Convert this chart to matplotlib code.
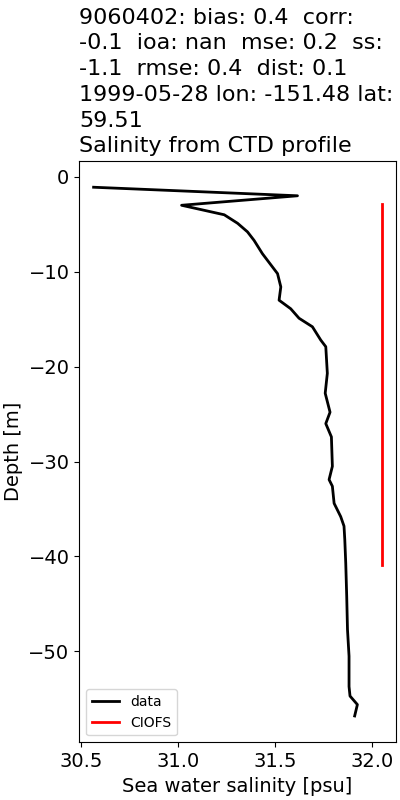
import numpy as np
import matplotlib.pyplot as plt

# CTD profile (observed)
salt = [30.565, 31.617, 31.019, 31.239, 31.308, 31.359, 31.393, 31.436, 31.488,
        31.514, 31.531, 31.522, 31.582, 31.625, 31.694, 31.737, 31.763, 31.771,
        31.760, 31.785, 31.763, 31.792, 31.797, 31.780, 31.797, 31.806, 31.840,
        31.857, 31.861, 31.866, 31.871, 31.875, 31.883, 31.883, 31.888, 31.926,
        31.912]
depth = [-1.1, -2.0, -3.0, -4.0, -4.9, -5.8, -6.7, -8.1, -9.5,
         -10.2, -11.6, -13.0, -13.9, -14.9, -15.8, -17.2, -17.9, -20.7,
         -22.8, -24.8, -26.0, -27.4, -30.5, -31.9, -32.6, -34.4, -35.8,
         -36.8, -38.2, -40.7, -44.2, -47.7, -50.5, -53.7, -54.7, -55.6,
         -56.8]

# model profile
model_salt = [32.051, 32.051]
model_depth = [-2.9, -40.9]

title = ('9060402: bias: 0.4  corr:\n-0.1  ioa: nan  mse: 0.2  ss:\n'
         '-1.1  rmse: 0.4  dist: 0.1\n1999-05-28 lon: -151.48 lat:\n59.51\n'
         'Salinity from CTD profile')

fig, ax = plt.subplots(figsize=(4, 8), dpi=100)
ax.plot(salt, depth, 'k', lw=2, label='data')
ax.plot(model_salt, model_depth, 'r', lw=2, label='CIOFS')
t = ax.set_title(title, loc='left', fontsize=16)
t.set_linespacing(1.36)
ax.set_xlabel('Sea water salinity [psu]', fontsize=14)
ax.set_ylabel('Depth [m]', fontsize=14)
ax.tick_params(labelsize=14)
ax.legend(loc='lower left', fontsize=10)
fig.subplots_adjust(left=0.198, right=0.99, top=0.799, bottom=0.072)
fig.savefig('out.png')
